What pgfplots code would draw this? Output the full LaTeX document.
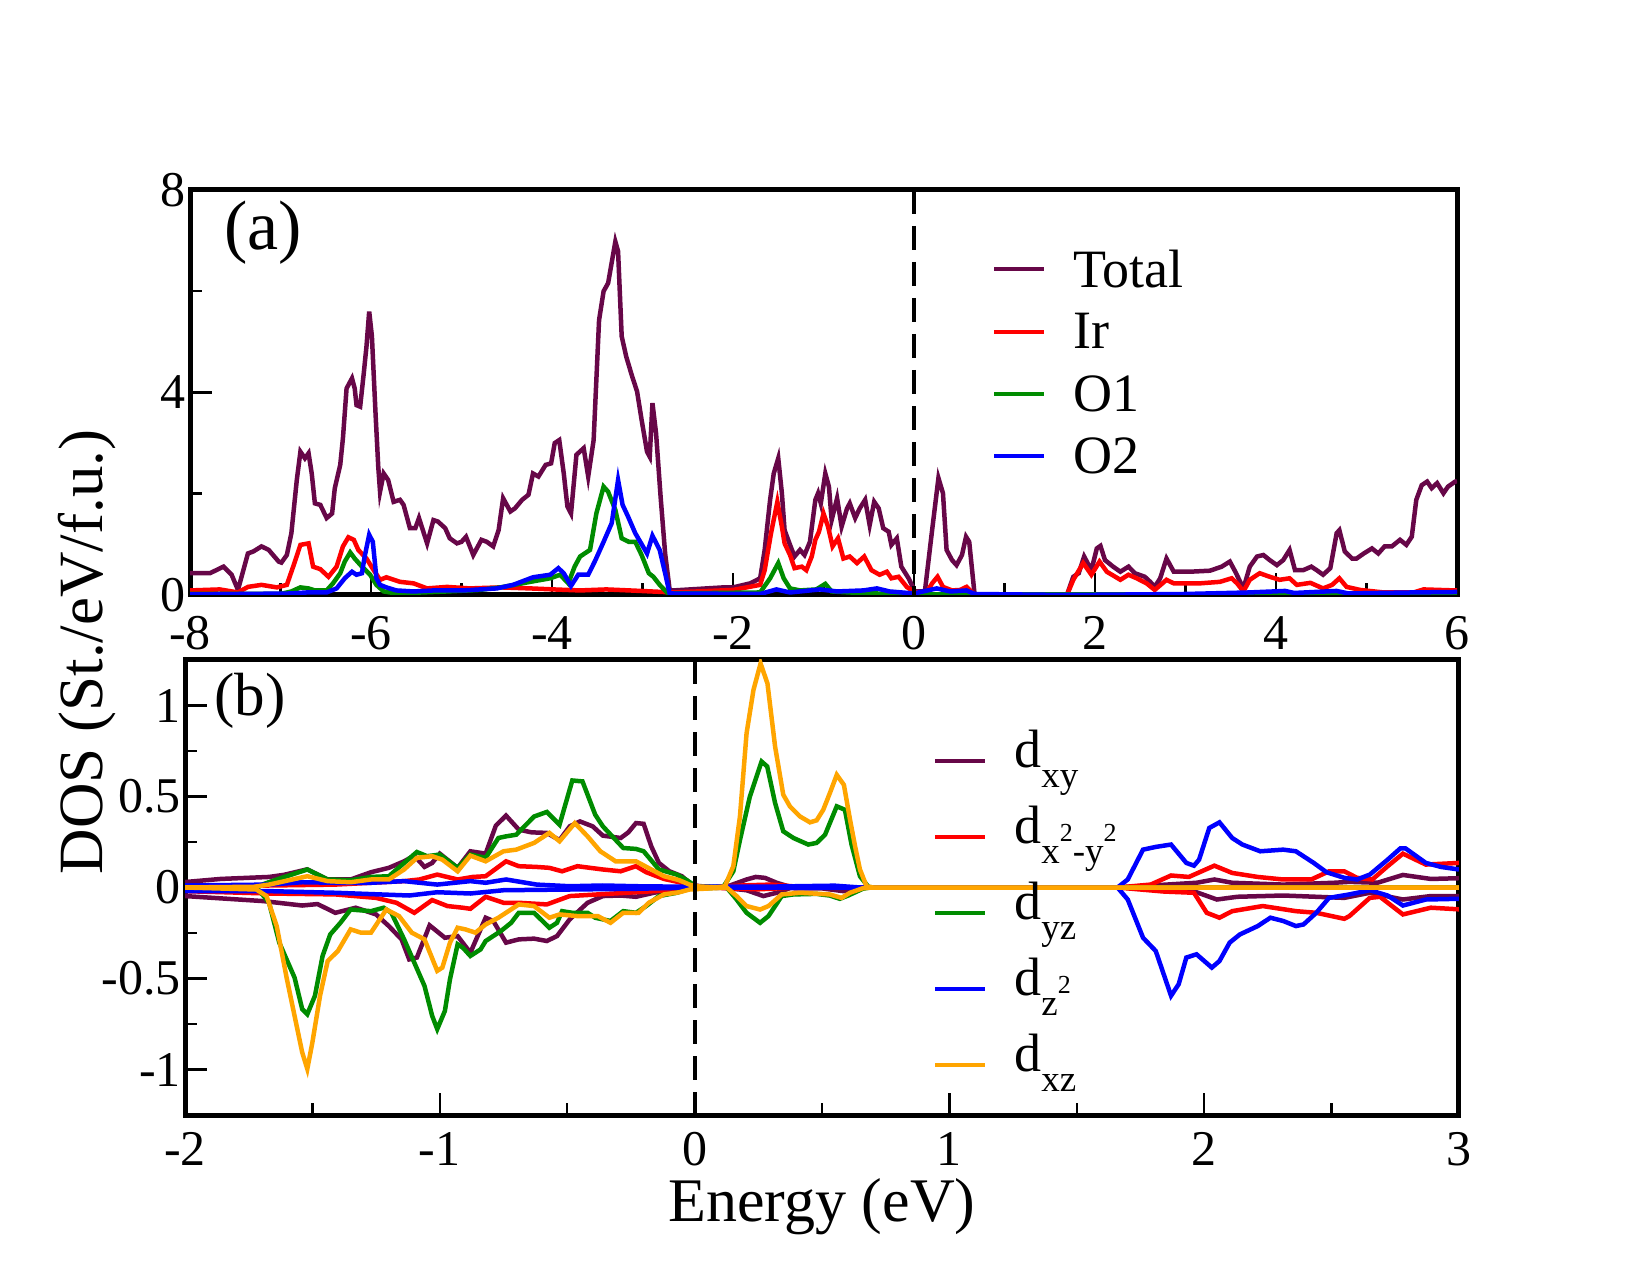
\documentclass[border=0pt]{standalone}
\usepackage{fontspec}
\setmainfont{Liberation Serif}
\usepackage{pgfplots}
\pgfplotsset{compat=1.18}
\definecolor{maroon}{RGB}{103,7,72}
\definecolor{dgreen}{RGB}{0,140,0}
\definecolor{dorange}{RGB}{255,165,0}
\newcommand{\sbs}[1]{\raisebox{-20pt}{\fontsize{37}{37}\selectfont #1}}
\newcommand{\sps}{\raisebox{2pt}{\fontsize{26}{26}\selectfont 2}}
\pgfplotsset{
  dosaxis/.style={
    scale only axis,
    axis line style={line width=5pt},
    tick align=inside,
    xtick pos=bottom, ytick pos=left,
    major tick length=22pt, minor tick length=12pt,
    every tick/.append style={black, line width=2.5pt},
    minor x tick num=1, minor y tick num=1,
    tick label style={font=\fontsize{50}{50}\selectfont},
    yticklabel style={inner xsep=4pt, inner ysep=0pt},
    xticklabel style={inner ysep=0pt, yshift=-17pt},
    legend cell align=left,
    legend image code/.code={\draw[#1] (0pt,0pt) -- (50pt,0pt);},
    legend style={draw=none, fill=none, inner sep=0pt, outer sep=0pt,
      nodes={inner sep=0pt, outer sep=0pt},
      font=\fontsize{54}{60}\selectfont, column sep=27pt, anchor=north west},
    every axis plot/.append style={line width=4.5pt},
  }
}
\begin{document}
\begin{tikzpicture}
\useasboundingbox (0pt,0pt) rectangle (1648pt,1275pt);
% ---------------- panel (a)
\begin{axis}[dosaxis, at={(190pt,680pt)}, anchor=south west,
  width=1267pt, height=405pt,
  xmin=-8, xmax=6, ymin=0, ymax=8,
  xticklabel style={yshift=-4pt},
  xtick={-8,-6,-4,-2,0,2,4,6}, xticklabels={\textrm{-8},\textrm{-6},\textrm{-4},\textrm{-2},\textrm{0},\textrm{2},\textrm{4},\textrm{6}},
  ytick={0,4,8}, yticklabels={\textrm{0},\textrm{4},\textrm{8}},
  legend style={at={(axis description cs:0.633,0.853)}, row sep=25pt}]
\addplot[maroon] coordinates {(-8.0,0.43) (-7.78,0.43) (-7.63,0.56) (-7.54,0.40) (-7.47,0.10) (-7.36,0.82) (-7.30,0.86) (-7.21,0.96) (-7.13,0.89) (-7.02,0.66) (-6.99,0.64) (-6.93,0.79) (-6.88,1.22) (-6.82,2.27) (-6.78,2.83) (-6.73,2.70) (-6.69,2.80) (-6.655,2.40) (-6.62,1.81) (-6.56,1.78) (-6.49,1.52) (-6.43,1.61) (-6.40,2.11) (-6.34,2.57) (-6.31,3.10) (-6.27,4.08) (-6.21,4.28) (-6.18,4.08) (-6.16,3.75) (-6.12,3.72) (-6.08,4.38) (-6.05,4.91) (-6.02,5.60) (-5.99,5.11) (-5.95,3.59) (-5.92,2.54) (-5.90,2.04) (-5.86,2.40) (-5.81,2.27) (-5.75,1.84) (-5.68,1.88) (-5.64,1.78) (-5.57,1.32) (-5.51,1.32) (-5.47,1.52) (-5.38,1.02) (-5.31,1.48) (-5.26,1.45) (-5.18,1.32) (-5.13,1.12) (-5.05,1.02) (-5.00,1.05) (-4.95,1.15) (-4.87,0.79) (-4.78,1.09) (-4.72,1.05) (-4.65,0.96) (-4.59,1.28) (-4.54,1.91) (-4.46,1.65) (-4.41,1.71) (-4.33,1.88) (-4.26,1.98) (-4.21,2.40) (-4.15,2.34) (-4.07,2.57) (-4.01,2.60) (-3.97,3.00) (-3.92,3.06) (-3.87,2.40) (-3.83,1.75) (-3.79,1.61) (-3.73,2.77) (-3.65,2.90) (-3.60,2.34) (-3.54,3.06) (-3.48,5.43) (-3.43,6.00) (-3.38,6.16) (-3.30,6.98) (-3.27,6.79) (-3.23,5.11) (-3.18,4.71) (-3.12,4.35) (-3.06,4.02) (-3.01,3.46) (-2.95,2.83) (-2.92,2.73) (-2.89,3.79) (-2.85,3.19) (-2.80,1.94) (-2.75,0.82) (-2.70,0.10) (-2.66,0.09) (-2.11,0.15) (-2.00,0.15) (-1.81,0.23) (-1.70,0.33) (-1.65,0.89) (-1.59,1.88) (-1.55,2.40) (-1.50,2.70) (-1.46,2.01) (-1.43,1.28) (-1.37,0.99) (-1.32,0.76) (-1.26,0.89) (-1.21,0.79) (-1.15,1.05) (-1.09,1.88) (-1.06,2.01) (-1.03,1.81) (-0.98,2.40) (-0.94,2.14) (-0.91,1.48) (-0.85,1.91) (-0.80,1.35) (-0.74,1.71) (-0.71,1.81) (-0.65,1.52) (-0.60,1.71) (-0.54,1.88) (-0.49,1.38) (-0.44,1.84) (-0.39,1.71) (-0.34,1.32) (-0.28,1.25) (-0.25,0.99) (-0.19,1.12) (-0.14,0.56) (-0.06,0.33) (0.01,0.07) (0.12,0.07) (0.20,1.28) (0.27,2.31) (0.32,2.01) (0.36,0.89) (0.42,0.69) (0.47,0.59) (0.53,0.79) (0.575,1.15) (0.61,1.05) (0.67,0.0) (1.69,0.0) (1.76,0.36) (1.82,0.43) (1.88,0.76) (1.96,0.49) (2.02,0.92) (2.06,0.97) (2.11,0.69) (2.20,0.56) (2.28,0.46) (2.37,0.56) (2.44,0.43) (2.55,0.36) (2.61,0.26) (2.66,0.16) (2.72,0.33) (2.79,0.72) (2.87,0.46) (3.05,0.46) (3.27,0.48) (3.40,0.56) (3.49,0.66) (3.55,0.46) (3.64,0.13) (3.71,0.56) (3.79,0.76) (3.86,0.79) (3.93,0.69) (4.01,0.59) (4.08,0.69) (4.15,0.89) (4.21,0.49) (4.30,0.49) (4.39,0.56) (4.45,0.49) (4.52,0.40) (4.60,0.53) (4.67,1.22) (4.70,1.28) (4.76,0.86) (4.84,0.72) (4.89,0.72) (4.97,0.82) (5.06,0.92) (5.13,0.82) (5.20,0.96) (5.28,0.96) (5.37,1.09) (5.44,0.99) (5.50,1.15) (5.55,1.88) (5.61,2.17) (5.67,2.24) (5.72,2.11) (5.78,2.21) (5.85,2.01) (5.90,2.14) (5.98,2.24) (6.0,2.25)};
\addlegendentry{Total}
\addplot[red] coordinates {(-8.0,0.09) (-7.67,0.11) (-7.47,0.05) (-7.36,0.16) (-7.21,0.20) (-7.04,0.15) (-6.93,0.20) (-6.86,0.56) (-6.78,0.99) (-6.69,1.02) (-6.64,0.56) (-6.56,0.51) (-6.47,0.36) (-6.38,0.56) (-6.31,0.96) (-6.25,1.14) (-6.19,1.09) (-6.14,0.89) (-6.05,0.72) (-5.97,0.49) (-5.90,0.30) (-5.83,0.35) (-5.68,0.26) (-5.53,0.23) (-5.38,0.13) (-5.16,0.16) (-4.91,0.13) (-4.57,0.15) (-4.24,0.13) (-3.98,0.11) (-3.69,0.09) (-3.40,0.11) (-3.14,0.09) (-2.66,0.05) (-2.0,0.10) (-1.70,0.20) (-1.65,0.49) (-1.58,1.22) (-1.51,1.84) (-1.46,1.35) (-1.43,1.02) (-1.37,0.79) (-1.32,0.53) (-1.24,0.56) (-1.19,0.49) (-1.13,0.76) (-1.09,1.09) (-1.05,1.25) (-1.00,1.61) (-0.95,1.35) (-0.90,0.96) (-0.84,1.12) (-0.78,0.72) (-0.71,0.76) (-0.63,0.63) (-0.55,0.76) (-0.47,0.49) (-0.38,0.40) (-0.30,0.46) (-0.25,0.33) (-0.17,0.36) (-0.08,0.16) (0.01,0.05) (0.14,0.05) (0.20,0.23) (0.26,0.36) (0.32,0.16) (0.42,0.09) (0.51,0.10) (0.58,0.16) (0.67,0.0) (1.69,0.0) (1.76,0.30) (1.87,0.63) (1.96,0.40) (2.05,0.66) (2.13,0.46) (2.28,0.30) (2.37,0.40) (2.46,0.33) (2.57,0.23) (2.66,0.10) (2.79,0.30) (2.87,0.23) (3.16,0.23) (3.38,0.26) (3.51,0.33) (3.57,0.23) (3.64,0.07) (3.71,0.30) (3.82,0.43) (3.93,0.36) (4.04,0.30) (4.15,0.33) (4.23,0.20) (4.38,0.24) (4.52,0.13) (4.62,0.20) (4.70,0.33) (4.78,0.16) (4.93,0.10) (5.19,0.05) (5.52,0.05) (5.63,0.11) (5.98,0.09) (6.0,0.09)};
\addlegendentry{Ir}
\addplot[dgreen] coordinates {(-8,0.02) (-7.0,0.02) (-6.88,0.07) (-6.78,0.15) (-6.69,0.13) (-6.62,0.09) (-6.49,0.09) (-6.42,0.23) (-6.34,0.43) (-6.29,0.66) (-6.23,0.84) (-6.18,0.72) (-6.10,0.56) (-6.01,0.40) (-5.94,0.20) (-5.86,0.07) (-5.72,0.03) (-5.16,0.07) (-4.80,0.10) (-4.57,0.15) (-4.24,0.26) (-4.02,0.33) (-3.91,0.40) (-3.82,0.23) (-3.75,0.56) (-3.69,0.76) (-3.64,0.82) (-3.58,0.89) (-3.51,1.61) (-3.43,2.14) (-3.38,2.04) (-3.30,1.68) (-3.23,1.12) (-3.15,1.05) (-3.08,1.05) (-3.01,0.79) (-2.93,0.43) (-2.88,0.36) (-2.81,0.20) (-2.73,0.05) (-2.70,0.03) (-1.70,0.05) (-1.59,0.33) (-1.50,0.63) (-1.44,0.33) (-1.37,0.13) (-1.26,0.09) (-1.08,0.11) (-0.98,0.22) (-0.91,0.07) (-0.71,0.05) (-0.41,0.03) (0,0.01) (3.6,0.01) (3.75,0.05) (4.0,0.04) (4.1,0.01) (6,0.01)};
\addlegendentry{O1}
\addplot[blue] coordinates {(-8,0.01) (-6.89,0.03) (-6.71,0.05) (-6.49,0.05) (-6.38,0.13) (-6.29,0.33) (-6.21,0.46) (-6.16,0.40) (-6.10,0.43) (-6.07,0.76) (-6.02,1.19) (-5.98,1.05) (-5.94,0.33) (-5.90,0.20) (-5.83,0.15) (-5.72,0.09) (-5.53,0.07) (-5.31,0.09) (-4.98,0.09) (-4.61,0.13) (-4.43,0.20) (-4.21,0.35) (-4.02,0.40) (-3.93,0.53) (-3.87,0.43) (-3.79,0.18) (-3.71,0.40) (-3.60,0.40) (-3.52,0.69) (-3.43,1.05) (-3.34,1.42) (-3.27,2.27) (-3.22,1.78) (-3.16,1.55) (-3.08,1.22) (-2.95,0.82) (-2.89,1.17) (-2.81,0.89) (-2.75,0.43) (-2.70,0.03) (-1.7,0.02) (-1.52,0.11) (-1.37,0.05) (-1.04,0.11) (-0.85,0.07) (-0.56,0.09) (-0.41,0.13) (-0.27,0.07) (0.0,0.03) (0.25,0.13) (0.40,0.07) (0.58,0.09) (0.67,0.02) (1.7,0.0) (3.0,0.02) (3.7,0.05) (4.1,0.08) (4.2,0.04) (4.67,0.08) (4.8,0.03) (5.5,0.05) (6,0.06)};
\addlegendentry{O2}
\addplot[black, line width=4pt, dash pattern=on 24pt off 12pt, forget plot] coordinates {(0,8) (0,0)};
\node[font=\fontsize{70}{70}\selectfont] at (axis description cs:0.0576,0.894) {(a)};
\end{axis}
% ---------------- panel (b)
\begin{axis}[dosaxis, at={(185pt,160pt)}, anchor=south west,
  width=1274pt, height=455pt,
  xmin=-2, xmax=3, ymin=-1.25, ymax=1.25,
  xtick={-2,-1,0,1,2,3}, xticklabels={\textrm{-2},\textrm{-1},\textrm{0},\textrm{1},\textrm{2},\textrm{3}},
  ytick={-1,-0.5,0,0.5,1}, yticklabels={\textrm{-1},\textrm{-0.5},\textrm{0},\textrm{0.5},\textrm{1}},
  xlabel={Energy (eV)},
  xlabel style={font=\fontsize{62}{62}\selectfont, inner sep=0pt, at={(axis description cs:0.5,-0.235)}, anchor=base},
  ylabel={DOS (St./eV/f.u.)},
  ylabel style={font=\fontsize{63}{63}\selectfont, inner sep=0pt, at={(axis description cs:-0.0769,1.018)}, anchor=center},
  legend style={at={(axis description cs:0.587,0.845)}, row sep=15pt,
    nodes={text height=37pt, text depth=24pt}}]
\addplot[maroon] coordinates {(-2,0.03) (-1.86,0.047) (-1.67,0.058) (-1.61,0.07) (-1.52,0.10) (-1.44,0.044) (-1.35,0.044) (-1.27,0.084) (-1.20,0.108) (-1.14,0.144) (-1.10,0.175) (-1.06,0.113) (-1.03,0.135) (-1.00,0.186) (-0.93,0.108) (-0.88,0.199) (-0.82,0.186) (-0.78,0.34) (-0.74,0.395) (-0.69,0.318) (-0.64,0.303) (-0.58,0.30) (-0.53,0.26) (-0.49,0.336) (-0.45,0.363) (-0.40,0.336) (-0.36,0.285) (-0.29,0.272) (-0.26,0.303) (-0.23,0.354) (-0.20,0.35) (-0.17,0.226) (-0.14,0.135) (-0.10,0.09) (-0.05,0.062) (-0.02,0.026) (0.0,0.01) (0.087,0.0) (0.139,0.011) (0.204,0.044) (0.24,0.058) (0.276,0.053) (0.322,0.026) (0.374,0.004) (0.545,0.004) (0.6,0.0) (1.66,0.0) (1.84,0.015) (1.97,0.026) (2.04,0.044) (2.11,0.026) (2.31,0.016) (2.51,0.026) (2.57,0.031) (2.68,0.026) (2.78,0.069) (2.89,0.047) (3.0,0.051)};
\addlegendentry{d\sbs{xy}}
\addplot[maroon, forget plot] coordinates {(-2,-0.047) (-1.69,-0.075) (-1.54,-0.099) (-1.48,-0.091) (-1.41,-0.139) (-1.33,-0.111) (-1.25,-0.148) (-1.20,-0.212) (-1.15,-0.285) (-1.12,-0.395) (-1.09,-0.385) (-1.04,-0.208) (-0.98,-0.276) (-0.93,-0.267) (-0.88,-0.358) (-0.82,-0.166) (-0.79,-0.184) (-0.74,-0.303) (-0.69,-0.285) (-0.63,-0.281) (-0.58,-0.294) (-0.54,-0.267) (-0.49,-0.175) (-0.42,-0.084) (-0.36,-0.047) (-0.29,-0.044) (-0.23,-0.051) (-0.16,-0.029) (-0.10,-0.015) (-0.02,-0.004) (0.1,0) (0.204,-0.015) (0.27,-0.047) (0.322,-0.029) (0.374,-0.004) (0.5,-0.005) (0.584,-0.02) (0.66,0) (1.66,0) (1.94,-0.011) (2.05,-0.066) (2.13,-0.051) (2.31,-0.044) (2.55,-0.057) (2.65,-0.029) (2.78,-0.066) (2.89,-0.047) (3.0,-0.047)};
\addplot[red] coordinates {(-2,0.004) (-1.67,0.011) (-1.41,0.016) (-1.14,0.035) (-1.08,0.044) (-1.01,0.071) (-0.93,0.044) (-0.87,0.058) (-0.82,0.062) (-0.74,0.144) (-0.69,0.117) (-0.62,0.113) (-0.57,0.108) (-0.52,0.089) (-0.46,0.117) (-0.41,0.108) (-0.36,0.099) (-0.29,0.089) (-0.23,0.117) (-0.19,0.084) (-0.12,0.047) (-0.06,0.029) (-0.02,0.015) (0.05,0) (0.2,0.012) (0.3,0.016) (0.4,0.005) (0.65,0) (1.66,0) (1.79,0.016) (1.87,0.066) (1.94,0.058) (2.04,0.12) (2.11,0.08) (2.21,0.058) (2.31,0.044) (2.42,0.044) (2.49,0.089) (2.55,0.089) (2.60,0.053) (2.66,0.044) (2.72,0.117) (2.78,0.186) (2.87,0.126) (3.0,0.135)};
\addlegendentry{d\sbs{x}\sps\sbs{-y}\sps}
\addplot[red, forget plot] coordinates {(-2,-0.02) (-1.67,-0.033) (-1.41,-0.038) (-1.25,-0.057) (-1.17,-0.084) (-1.10,-0.139) (-1.03,-0.069) (-0.97,-0.102) (-0.91,-0.111) (-0.88,-0.117) (-0.82,-0.051) (-0.75,-0.084) (-0.69,-0.084) (-0.58,-0.093) (-0.49,-0.047) (-0.38,-0.038) (-0.23,-0.026) (-0.10,-0.015) (0.05,0) (0.25,-0.01) (0.4,0) (1.66,0) (1.84,-0.022) (1.96,-0.029) (2.01,-0.139) (2.06,-0.166) (2.11,-0.13) (2.23,-0.102) (2.36,-0.13) (2.44,-0.139) (2.55,-0.172) (2.57,-0.157) (2.65,-0.057) (2.69,-0.051) (2.78,-0.148) (2.89,-0.111) (3.0,-0.12)};
\addplot[dgreen] coordinates {(-2,0) (-1.73,0) (-1.64,0.044) (-1.52,0.099) (-1.44,0.044) (-1.35,0.04) (-1.27,0.058) (-1.20,0.062) (-1.09,0.195) (-1.05,0.172) (-1.00,0.181) (-0.93,0.108) (-0.88,0.181) (-0.82,0.163) (-0.77,0.272) (-0.74,0.281) (-0.70,0.29) (-0.63,0.39) (-0.58,0.415) (-0.53,0.345) (-0.48,0.588) (-0.44,0.583) (-0.39,0.40) (-0.36,0.336) (-0.28,0.217) (-0.23,0.212) (-0.20,0.199) (-0.14,0.099) (-0.07,0.071) (-0.03,0.04) (0.004,0.007) (0.06,0.004) (0.113,0.004) (0.152,0.089) (0.178,0.26) (0.217,0.50) (0.263,0.692) (0.285,0.665) (0.316,0.464) (0.348,0.309) (0.388,0.272) (0.446,0.236) (0.479,0.245) (0.512,0.29) (0.558,0.446) (0.59,0.427) (0.616,0.236) (0.649,0.062) (0.682,0.004) (0.7,0) (3,0)};
\addlegendentry{d\sbs{yz}}
\addplot[dgreen, forget plot] coordinates {(-2,0) (-1.71,-0.015) (-1.67,-0.084) (-1.63,-0.303) (-1.57,-0.495) (-1.54,-0.668) (-1.52,-0.696) (-1.49,-0.595) (-1.46,-0.376) (-1.43,-0.258) (-1.39,-0.194) (-1.35,-0.121) (-1.27,-0.13) (-1.22,-0.111) (-1.19,-0.139) (-1.14,-0.285) (-1.10,-0.413) (-1.06,-0.541) (-1.03,-0.705) (-1.01,-0.778) (-0.98,-0.678) (-0.96,-0.504) (-0.93,-0.312) (-0.91,-0.33) (-0.88,-0.376) (-0.84,-0.34) (-0.82,-0.294) (-0.76,-0.239) (-0.72,-0.194) (-0.69,-0.139) (-0.63,-0.139) (-0.57,-0.221) (-0.54,-0.194) (-0.52,-0.13) (-0.48,-0.139) (-0.42,-0.139) (-0.39,-0.166) (-0.33,-0.184) (-0.28,-0.13) (-0.23,-0.139) (-0.19,-0.102) (-0.14,-0.047) (-0.07,-0.029) (-0.02,-0.007) (0.126,0) (0.165,-0.066) (0.204,-0.139) (0.257,-0.194) (0.29,-0.157) (0.342,-0.047) (0.388,-0.038) (0.479,-0.035) (0.53,-0.044) (0.57,-0.062) (0.603,-0.044) (0.66,-0.007) (0.688,0) (3,0)};
\addplot[blue] coordinates {(-2,0.011) (-1.67,0.016) (-1.54,0.029) (-1.41,0.026) (-1.27,0.026) (-1.14,0.035) (-1.01,0.016) (-0.88,0.035) (-0.82,0.026) (-0.74,0.044) (-0.62,0.016) (-0.49,0.007) (-0.36,0.011) (-0.23,0.007) (-0.02,0.004) (0.3,0.005) (0.55,0.01) (0.65,0) (1.66,0) (1.70,0.044) (1.76,0.208) (1.81,0.223) (1.87,0.236) (1.93,0.135) (1.96,0.12) (1.98,0.153) (2.02,0.327) (2.06,0.358) (2.11,0.272) (2.15,0.236) (2.22,0.199) (2.31,0.208) (2.36,0.199) (2.43,0.135) (2.48,0.084) (2.55,0.053) (2.60,0.044) (2.65,0.071) (2.72,0.153) (2.77,0.215) (2.79,0.215) (2.87,0.135) (2.93,0.113) (3.0,0.099)};
\addlegendentry{d\sbs{z}\sps}
\addplot[blue, forget plot] coordinates {(-2,-0.02) (-1.67,-0.02) (-1.41,-0.029) (-1.12,-0.044) (-1.01,-0.026) (-0.88,-0.033) (-0.75,-0.015) (-0.49,-0.011) (-0.23,-0.007) (0,0) (0.65,0) (1.66,0) (1.70,-0.066) (1.76,-0.276) (1.81,-0.349) (1.87,-0.595) (1.90,-0.531) (1.93,-0.385) (1.97,-0.367) (2.03,-0.44) (2.06,-0.404) (2.10,-0.303) (2.14,-0.258) (2.21,-0.212) (2.26,-0.166) (2.31,-0.184) (2.36,-0.212) (2.39,-0.203) (2.44,-0.139) (2.49,-0.057) (2.57,-0.038) (2.65,-0.015) (2.72,-0.044) (2.78,-0.099) (2.87,-0.066) (3.0,-0.062)};
\addplot[dorange] coordinates {(-2,0) (-1.73,0.004) (-1.67,0.016) (-1.52,0.062) (-1.44,0.035) (-1.35,0.029) (-1.27,0.044) (-1.20,0.044) (-1.14,0.099) (-1.09,0.163) (-1.03,0.172) (-0.99,0.153) (-0.93,0.089) (-0.88,0.175) (-0.82,0.144) (-0.75,0.199) (-0.70,0.208) (-0.63,0.245) (-0.57,0.30) (-0.53,0.254) (-0.47,0.354) (-0.42,0.281) (-0.37,0.199) (-0.31,0.144) (-0.23,0.144) (-0.17,0.099) (-0.12,0.062) (-0.06,0.04) (-0.02,0.016) (0.004,0.007) (0.087,0) (0.119,0.007) (0.152,0.117) (0.178,0.39) (0.204,0.847) (0.231,1.085) (0.259,1.231) (0.286,1.121) (0.316,0.774) (0.348,0.51) (0.374,0.446) (0.414,0.39) (0.453,0.358) (0.479,0.369) (0.505,0.427) (0.531,0.519) (0.558,0.619) (0.586,0.564) (0.61,0.373) (0.63,0.226) (0.649,0.099) (0.675,0.007) (0.7,0) (3,0)};
\addlegendentry{d\sbs{xz}}
\addplot[dorange, forget plot] coordinates {(-2,0) (-1.72,-0.011) (-1.68,-0.047) (-1.64,-0.212) (-1.60,-0.504) (-1.57,-0.705) (-1.54,-0.906) (-1.52,-0.997) (-1.50,-0.851) (-1.47,-0.595) (-1.44,-0.404) (-1.40,-0.349) (-1.35,-0.23) (-1.31,-0.248) (-1.27,-0.248) (-1.21,-0.121) (-1.16,-0.157) (-1.11,-0.248) (-1.06,-0.285) (-1.01,-0.458) (-0.99,-0.44) (-0.96,-0.303) (-0.93,-0.221) (-0.90,-0.23) (-0.86,-0.248) (-0.82,-0.203) (-0.77,-0.166) (-0.69,-0.093) (-0.63,-0.102) (-0.57,-0.166) (-0.53,-0.148) (-0.46,-0.157) (-0.38,-0.157) (-0.33,-0.194) (-0.28,-0.139) (-0.22,-0.139) (-0.18,-0.084) (-0.12,-0.038) (-0.06,-0.026) (-0.02,-0.011) (0.126,0) (0.165,-0.047) (0.204,-0.102) (0.257,-0.121) (0.29,-0.102) (0.342,-0.038) (0.414,-0.029) (0.53,-0.038) (0.577,-0.057) (0.61,-0.029) (0.66,-0.004) (0.7,0) (3,0)};
\addplot[black, line width=4pt, dash pattern=on 24pt off 12pt, forget plot] coordinates {(0,1.25) (0,-1.25)};
\node[font=\fontsize{61}{61}\selectfont] at (axis description cs:0.051,0.910) {(b)};
\end{axis}
\end{tikzpicture}
\end{document}
